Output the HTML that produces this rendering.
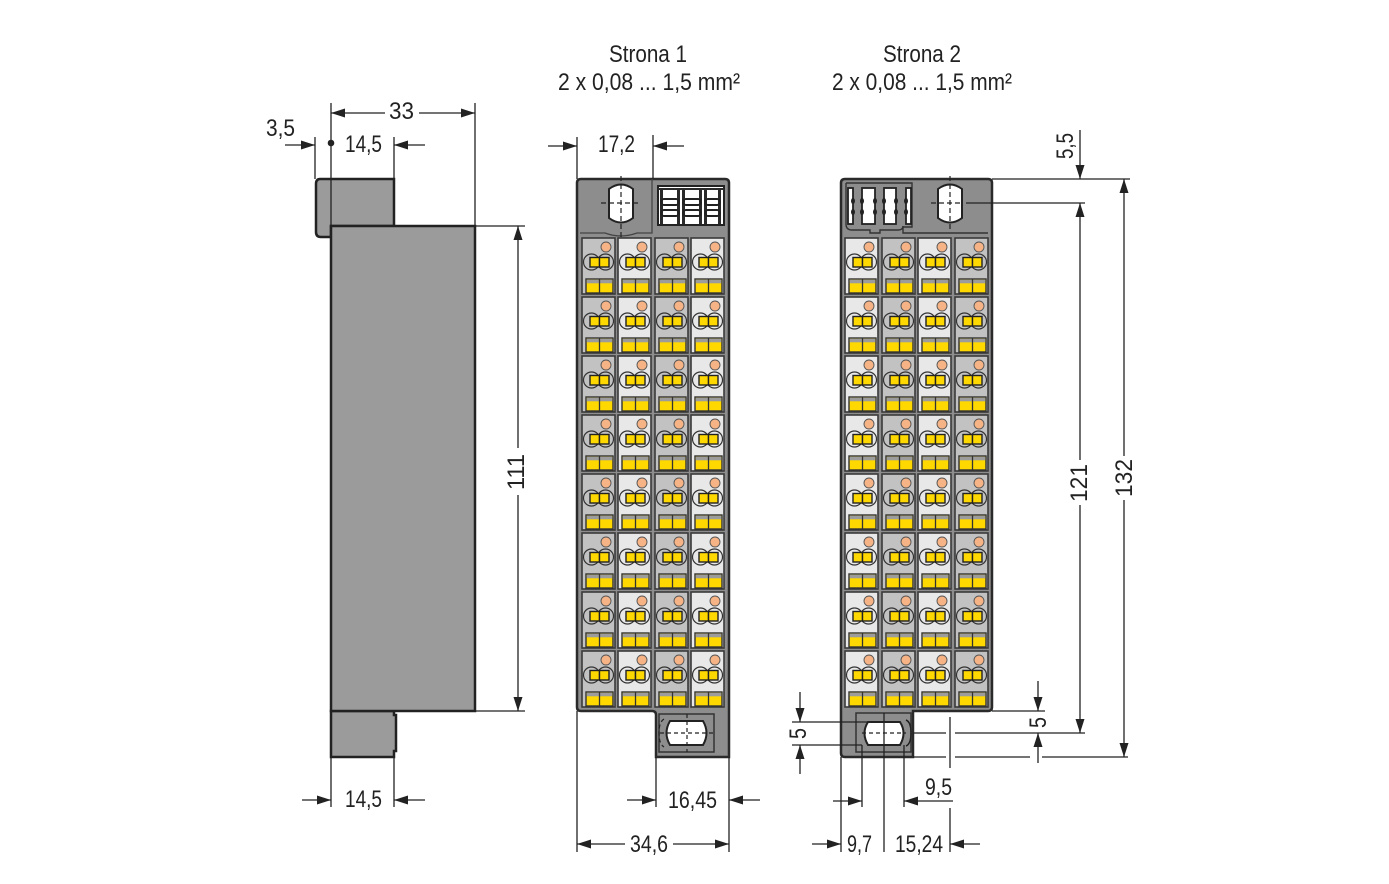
<!DOCTYPE html>
<html><head><meta charset="utf-8"><style>
html,body{margin:0;padding:0;background:#fff;}
svg{display:block;}
text{font-family:"Liberation Sans Narrow","Liberation Sans",sans-serif;fill:#222;font-size:24px;}
</style></head><body>
<svg width="1389" height="884" viewBox="0 0 1389 884" xmlns="http://www.w3.org/2000/svg">
<defs>
<g id="ci">
<circle cx="24" cy="9" r="5" fill="#f6b386" stroke="#555" stroke-width="0.9"/>
<circle cx="9.5" cy="24" r="8" fill="none" stroke="#333" stroke-width="1.2"/>
<circle cx="23.5" cy="24" r="8" fill="none" stroke="#333" stroke-width="1.2"/>
<rect x="8" y="19.5" width="9.5" height="9.5" fill="#ffd800" stroke="#222" stroke-width="1.4"/>
<rect x="17.5" y="19.5" width="9.5" height="9.5" fill="#ffd800" stroke="#222" stroke-width="1.4"/>
<rect x="4" y="41" width="27" height="14" fill="#ffd800" stroke="#333" stroke-width="1.4"/>
<rect x="4.7" y="41.7" width="25.6" height="3.6" fill="#9c9c9c"/>
<line x1="17.5" y1="41" x2="17.5" y2="55" stroke="#333" stroke-width="1.3"/>
</g>
<g id="cd"><rect x="0" y="0" width="33" height="56" fill="#c2c2c2" stroke="#3a3a3a" stroke-width="1.6"/><use href="#ci"/></g>
<g id="cl"><rect x="0" y="0" width="33" height="56" fill="#e8e8e8" stroke="#3a3a3a" stroke-width="1.6"/><use href="#ci"/></g>
<g id="r1"><use href="#cd" x="582"/><use href="#cl" x="618"/><use href="#cd" x="655"/><use href="#cl" x="691"/></g>
<g id="r2"><use href="#cl" x="845"/><use href="#cd" x="882"/><use href="#cl" x="918"/><use href="#cd" x="955"/></g>
</defs>

<!-- ===== Side view ===== -->
<path d="M320,179 H394 V226 H331 V237 H321 Q316,237 316,232 V184 Q316,179 320,179 Z" fill="#9b9b9b" stroke="#222" stroke-width="2.5"/>
<path d="M331,711 H394 V715 H396 V751 H394 V757 H331 Z" fill="#9b9b9b" stroke="#222" stroke-width="2.5"/>
<rect x="331" y="226" width="144" height="485" fill="#9b9b9b" stroke="#222" stroke-width="2.5"/>

<g stroke="#222" stroke-width="1.3" fill="none">
<path d="M331,103 V226 M475,103 V226"/>
<path d="M331,113 H385 M419,113 H475"/>
<path d="M285,145 H315 M315,137 V179"/>
<path d="M394,145 H425 M394,137 V179"/>
<path d="M475,226 H525 M475,711 H525 M518,226 V448 M518,495 V711"/>
<path d="M331,757 V807 M394,757 V807 M302,800 H331 M394,800 H425"/>
</g>
<g fill="#222">
<polygon points="331,113 345,108.5 345,117.5"/>
<polygon points="475,113 461,108.5 461,117.5"/>
<polygon points="315,145 301,140.5 301,149.5"/>
<polygon points="394,145 408,140.5 408,149.5"/>
<circle cx="331" cy="143" r="3.3"/>
<polygon points="518,226 513.5,240 522.5,240"/>
<polygon points="518,711 513.5,697 522.5,697"/>
<polygon points="331,800 317,795.5 317,804.5"/>
<polygon points="394,800 408,795.5 408,804.5"/>
</g>
<text x="266" y="136" textLength="29" lengthAdjust="spacingAndGlyphs">3,5</text>
<text x="389" y="119" textLength="25" lengthAdjust="spacingAndGlyphs">33</text>
<text x="345" y="152" textLength="37" lengthAdjust="spacingAndGlyphs">14,5</text>
<text x="345" y="807" textLength="37" lengthAdjust="spacingAndGlyphs">14,5</text>
<text transform="translate(524,490) rotate(-90)" x="0" y="0" textLength="36" lengthAdjust="spacingAndGlyphs">111</text>

<!-- ===== Module 1 ===== -->
<path d="M581,179 H725 Q729,179 729,183 V757 H656 V715 Q656,711 652,711 H581 Q577,711 577,707 V183 Q577,179 581,179 Z" fill="#8d8d8d" stroke="#2a2a2a" stroke-width="2.5"/>
<path d="M580,233 H605 Q621,239 637,233 H652 V179" fill="none" stroke="#444" stroke-width="1.3"/>
<path d="M609,189 Q621,180 633,189 V218 Q621,227 609,218 Z" fill="#fff" stroke="#222" stroke-width="2"/>
<path d="M621,176 V240 M601,203 H641" stroke="#222" stroke-width="1.2" stroke-dasharray="5,3"/>
<rect x="658" y="186" width="66" height="39" fill="#fff" stroke="#222" stroke-width="2"/>
<g fill="#2a2a2a">
<rect x="660" y="188" width="3" height="36"/><rect x="677" y="188" width="3" height="36"/>
<rect x="682" y="188" width="3" height="36"/><rect x="699" y="188" width="3" height="36"/>
<rect x="704" y="188" width="3" height="36"/><rect x="718" y="188" width="3" height="36"/>
<rect x="658" y="188" width="66" height="2"/>
</g>
<g fill="none" stroke="#222" stroke-width="2">
<rect x="661" y="199" width="18" height="6" rx="3"/><rect x="661" y="210" width="18" height="6" rx="3"/>
<rect x="683" y="199" width="18" height="6" rx="3"/><rect x="683" y="210" width="18" height="6" rx="3"/>
<rect x="705" y="199" width="15" height="6" rx="3"/><rect x="705" y="210" width="15" height="6" rx="3"/>
</g>
<rect x="659" y="714" width="55" height="38" fill="none" stroke="#333" stroke-width="1.5"/>
<path d="M670,721 H703 Q710,733 703,745 H670 Q663,733 670,721 Z" fill="#fff" stroke="#222" stroke-width="2"/>
<path d="M660,733 H713 M687,714 V752 M664,719 Q659,722 659,733 Q659,744 664,747" fill="none" stroke="#222" stroke-width="1.2" stroke-dasharray="4,3"/>

<use href="#r1" y="238"/><use href="#r1" y="297"/><use href="#r1" y="356"/><use href="#r1" y="415"/>
<use href="#r1" y="474"/><use href="#r1" y="533"/><use href="#r1" y="592"/><use href="#r1" y="651"/>

<g stroke="#222" stroke-width="1.3" fill="none">
<path d="M577,137 V179 M653,135 V179 M548,146 H577 M653,146 H684"/>
<path d="M656,757 V807 M729,757 V852 M627,800 H656 M729,800 H760"/>
<path d="M577,711 V852 M577,844 H625 M673,844 H729"/>
</g>
<g fill="#222">
<polygon points="577,146 563,141.5 563,150.5"/>
<polygon points="653,146 667,141.5 667,150.5"/>
<polygon points="656,800 642,795.5 642,804.5"/>
<polygon points="729,800 743,795.5 743,804.5"/>
<polygon points="577,844 591,839.5 591,848.5"/>
<polygon points="729,844 715,839.5 715,848.5"/>
</g>
<text x="609" y="62" font-size="23" textLength="78" lengthAdjust="spacingAndGlyphs">Strona 1</text>
<text x="558" y="90" font-size="23" textLength="182" lengthAdjust="spacingAndGlyphs">2 x 0,08 ... 1,5 mm²</text>
<text x="598" y="152" textLength="37" lengthAdjust="spacingAndGlyphs">17,2</text>
<text x="668" y="808" textLength="49" lengthAdjust="spacingAndGlyphs">16,45</text>
<text x="630" y="852" textLength="38" lengthAdjust="spacingAndGlyphs">34,6</text>

<!-- ===== Module 2 ===== -->
<path d="M845,179 H988 Q992,179 992,183 V707 Q992,711 988,711 H913 V757 H845 Q841,757 841,753 V183 Q841,179 845,179 Z" fill="#8d8d8d" stroke="#2a2a2a" stroke-width="2.5"/>
<path d="M846,183 H912 V227 H903 V233 H988" fill="none" stroke="#333" stroke-width="1.4"/>
<path d="M846,183 V224 Q846,230 852,230 H870 V233 H880 V230 H898 Q903,230 903,226" fill="none" stroke="#333" stroke-width="1.4"/>
<g fill="#fff" stroke="#222" stroke-width="1.8">
<rect x="848" y="188" width="5" height="36"/>
<rect x="862" y="188" width="13" height="36"/>
<rect x="884" y="188" width="12" height="36"/>
<rect x="906" y="188" width="5" height="36"/>
</g>
<g fill="#222">
<ellipse cx="862" cy="201" rx="2" ry="3"/><ellipse cx="875" cy="201" rx="2" ry="3"/>
<ellipse cx="862" cy="212" rx="2" ry="3"/><ellipse cx="875" cy="212" rx="2" ry="3"/>
<ellipse cx="884" cy="201" rx="2" ry="3"/><ellipse cx="896" cy="201" rx="2" ry="3"/>
<ellipse cx="884" cy="212" rx="2" ry="3"/><ellipse cx="896" cy="212" rx="2" ry="3"/>
<ellipse cx="853" cy="201" rx="2" ry="3"/><ellipse cx="853" cy="212" rx="2" ry="3"/>
<ellipse cx="906" cy="201" rx="2" ry="3"/><ellipse cx="906" cy="212" rx="2" ry="3"/>
</g>
<path d="M938,189 Q950,180 962,189 V218 Q950,227 938,218 Z" fill="#fff" stroke="#222" stroke-width="2"/>
<path d="M950,176 V232 M931,203 H962" stroke="#222" stroke-width="1.2" stroke-dasharray="5,3"/>
<rect x="856" y="713" width="55" height="39" fill="none" stroke="#333" stroke-width="1.5"/>
<path d="M868,722 H900 Q907,733 900,745 H868 Q861,733 868,722 Z" fill="#fff" stroke="#222" stroke-width="2"/>
<path d="M862,733 H906" stroke="#222" stroke-width="1.2" stroke-dasharray="4,3"/>
<path d="M906,720 Q911,722 911,733 Q911,744 906,746" fill="none" stroke="#222" stroke-width="1.5"/>

<use href="#r2" y="238"/><use href="#r2" y="297"/><use href="#r2" y="356"/><use href="#r2" y="415"/>
<use href="#r2" y="474"/><use href="#r2" y="533"/><use href="#r2" y="592"/><use href="#r2" y="651"/>

<g stroke="#222" stroke-width="1.3" fill="none">
<path d="M1080,130 V179 M992,179 H1130 M966,203 H1085"/>
<path d="M1080,203 V460 M1080,505 V733"/>
<path d="M1124,179 V456 M1124,500 V757"/>
<path d="M992,711 H1045"/>
<path d="M913,733 H946 M955,733 H1085"/>
<path d="M913,757 H946 M955,757 H1030 M1042,757 H1128"/>
<path d="M1038,681 V711 M1038,763 V733"/>
<path d="M792,722 H880 M792,745 H862 M800,692 V722 M800,774 V745"/>
<path d="M841,757 V852 M862,745 V807 M884,713 V852 M904,745 V807 M950,717 V768 M950,808 V852"/>
<path d="M904,801 H953 M833,801 H862"/>
<path d="M812,844 H841 M950,844 H980"/>
</g>
<g fill="#222">
<polygon points="1080,179 1075.5,165 1084.5,165"/>
<polygon points="1080,203 1075.5,217 1084.5,217"/>
<polygon points="1080,733 1075.5,719 1084.5,719"/>
<polygon points="1124,179 1119.5,193 1128.5,193"/>
<polygon points="1124,757 1119.5,743 1128.5,743"/>
<polygon points="1038,711 1033.5,697 1042.5,697"/>
<polygon points="1038,733 1033.5,747 1042.5,747"/>
<polygon points="800,722 795.5,708 804.5,708"/>
<polygon points="800,745 795.5,759 804.5,759"/>
<polygon points="904,801 918,796.5 918,805.5"/>
<polygon points="862,801 848,796.5 848,805.5"/>
<polygon points="841,844 827,839.5 827,848.5"/>
<polygon points="950,844 964,839.5 964,848.5"/>
</g>
<text x="883" y="62" font-size="23" textLength="78" lengthAdjust="spacingAndGlyphs">Strona 2</text>
<text x="832" y="90" font-size="23" textLength="180" lengthAdjust="spacingAndGlyphs">2 x 0,08 ... 1,5 mm²</text>
<text transform="translate(1073,159) rotate(-90)" x="0" y="0" textLength="26" lengthAdjust="spacingAndGlyphs">5,5</text>
<text transform="translate(1087,502) rotate(-90)" x="0" y="0" textLength="38" lengthAdjust="spacingAndGlyphs">121</text>
<text transform="translate(1132,497) rotate(-90)" x="0" y="0" textLength="38" lengthAdjust="spacingAndGlyphs">132</text>
<text transform="translate(1046,728) rotate(-90)" x="0" y="0" textLength="11" lengthAdjust="spacingAndGlyphs">5</text>
<text transform="translate(806,739) rotate(-90)" x="0" y="0" textLength="11" lengthAdjust="spacingAndGlyphs">5</text>
<text x="925" y="795" textLength="27" lengthAdjust="spacingAndGlyphs">9,5</text>
<text x="847" y="852" textLength="25" lengthAdjust="spacingAndGlyphs">9,7</text>
<text x="895" y="852" textLength="48" lengthAdjust="spacingAndGlyphs">15,24</text>
</svg>
</body></html>
